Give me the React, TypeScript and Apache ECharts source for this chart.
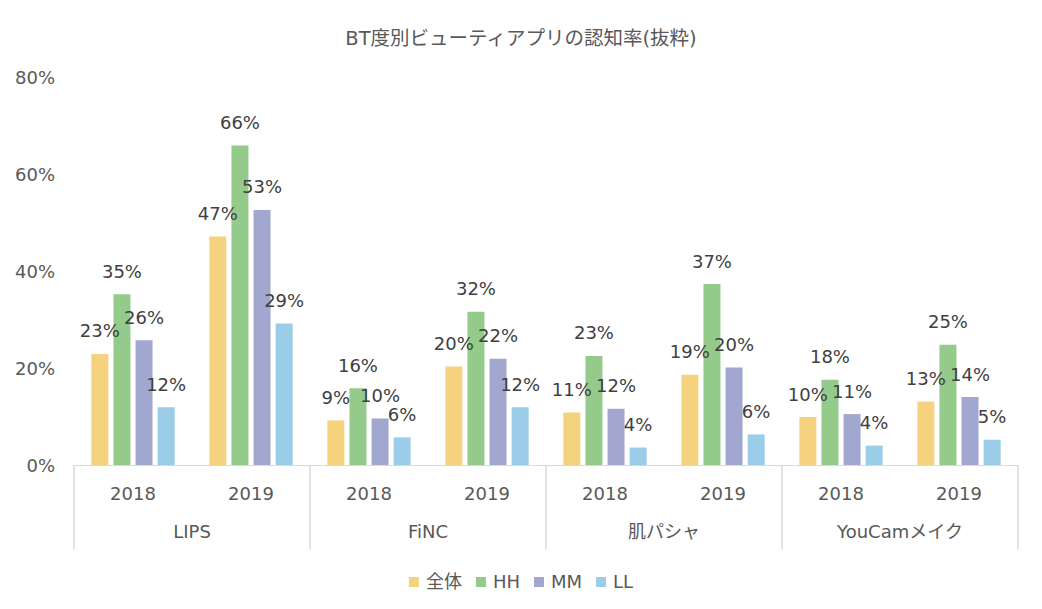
import React, { useEffect, useRef } from "react";
import * as echarts from "echarts";

const title = "BT度別ビューティアプリの認知率(抜粋)";
const years = ["2018", "2019", "2018", "2019", "2018", "2019", "2018", "2019"];
const groups = ["LIPS", "FiNC", "肌パシャ", "YouCamメイク"];
const seriesNames = ["全体", "HH", "MM", "LL"];
const zentai = [22.9, 47.1, 9.2, 20.3, 10.8, 18.6, 9.9, 13.1];
const hh = [35.2, 65.9, 15.8, 31.6, 22.5, 37.3, 17.6, 24.8];
const mm = [25.7, 52.6, 9.6, 21.9, 11.6, 20.1, 10.5, 14.0];
const ll = [11.9, 29.2, 5.7, 11.9, 3.6, 6.3, 4.0, 5.2];
const yTicks = [0, 20, 40, 60, 80];
const colors = ["#F5D37E", "#95CB8A", "#A2A7CF", "#9BCDE9"];

const FONT = "'DejaVu Sans', 'Noto Sans CJK JP', sans-serif";

export default function App() {
  const ref = useRef<HTMLDivElement>(null);
  useEffect(() => {
    if (!ref.current) return;
    const chart = echarts.init(ref.current, undefined, { renderer: "svg" });
    const allData = [zentai, hh, mm, ll];
    chart.setOption({
      animation: false,
      textStyle: { fontFamily: FONT },
      title: {
        text: title,
        left: "center",
        top: 24,
        textStyle: { fontFamily: FONT, fontSize: 19.5, fontWeight: "normal", color: "#595959" },
      },
      legend: {
        data: seriesNames,
        left: "center",
        top: 568,
        icon: "rect",
        itemWidth: 10,
        itemHeight: 10,
        itemGap: 14,
        textStyle: { fontFamily: FONT, fontSize: 18, color: "#595959", padding: [0, 0, 0, 2] },
      },
      grid: { left: 74, right: 24, top: 77, bottom: 144, containLabel: false },
      xAxis: [
        {
          type: "category",
          data: years,
          position: "bottom",
          axisLine: { show: true, lineStyle: { color: "#D9D9D9", width: 1 } },
          axisTick: { show: false },
          axisLabel: { margin: 19, fontSize: 18, color: "#595959", fontFamily: FONT },
        },
        {
          type: "category",
          data: groups,
          position: "bottom",
          axisLine: { show: false },
          axisTick: { show: true, interval: 0, length: 84, lineStyle: { color: "#D9D9D9", width: 1.5 } },
          axisLabel: { margin: 57, fontSize: 18, color: "#595959", fontFamily: FONT },
        },
      ],
      yAxis: {
        type: "value",
        min: yTicks[0],
        max: yTicks[yTicks.length - 1],
        interval: 20,
        splitLine: { show: false },
        axisLine: { show: false },
        axisTick: { show: false },
        axisLabel: {
          margin: 19,
          fontSize: 18,
          color: "#595959",
          fontFamily: FONT,
          formatter: (v: number) => v + "%",
        },
      },
      series: seriesNames.map((name, i) => ({
        name,
        type: "bar",
        xAxisIndex: 0,
        data: allData[i],
        barWidth: 17,
        barGap: "30%",
        itemStyle: { color: colors[i] },
        label: {
          show: true,
          position: "top",
          distance: 14,
          fontSize: 18,
          color: "#404040",
          fontFamily: FONT,
          formatter: (p: any) => Math.round(p.value) + "%",
        },
      })),
    });
    return () => chart.dispose();
  }, []);
  return <div ref={ref} style={{ width: 1042, height: 609, position: "absolute", left: 0, top: 0 }} />;
}
